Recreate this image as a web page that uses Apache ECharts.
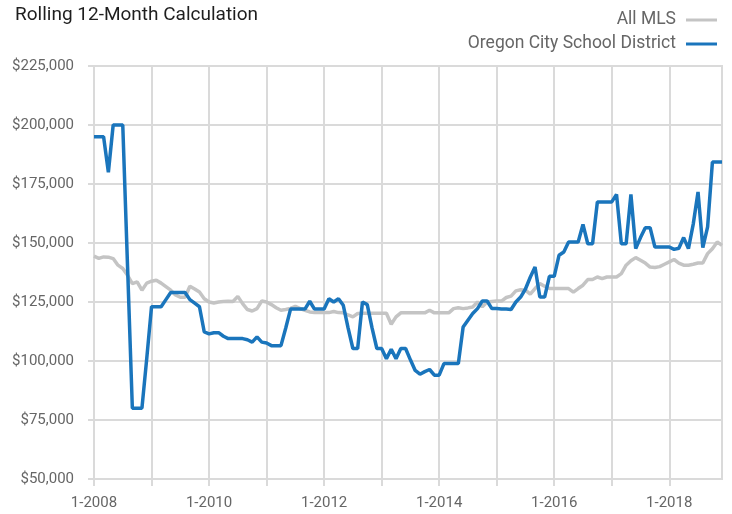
<!DOCTYPE html>
<html>
<head>
<meta charset="utf-8">
<title>Rolling 12-Month Calculation</title>
<script src="https://cdn.jsdelivr.net/npm/echarts@6/dist/echarts.min.js"></script>
<style>
    html, body { margin: 0; padding: 0; background: #fff; }
    #chart1 { width: 732px; height: 514px; }
</style>
</head>
<body>
<div id="chart1"></div>
<script>
var years = [2008, 2009, 2010, 2011, 2012, 2013, 2014, 2015, 2016, 2017, 2018];
var yTicks = [50000, 75000, 100000, 125000, 150000, 175000, 200000, 225000];

// All MLS, monthly 1-2008 .. 12-2018
var allMls = [
    144400, 143500, 144100, 144000, 143400, 140600, 139200, 136300, 132800, 133500, 130000, 133000,
    133800, 134200, 133000, 131500, 130000, 128000, 127000, 127000, 131700, 130500, 129200, 126400,
    125000, 124600, 125000, 125200, 125300, 125200, 127400, 124300, 121800, 121200, 122200, 125400,
    125000, 123900, 122600, 121500, 121800, 122300, 123200, 122200, 121500, 120800, 120600, 120500,
    120500, 120500, 121000, 120500, 120400, 119500, 118700, 120100, 120200, 120200, 120200, 120200,
    120200, 120200, 115600, 118700, 120400, 120400, 120400, 120400, 120400, 120400, 121500, 120400,
    120400, 120400, 120400, 122200, 122600, 122200, 122500, 122900, 125000, 123000, 125000, 125200,
    125400, 125400, 126900, 127500, 129700, 130200, 130000, 128300, 130700, 132800, 131700, 130700,
    130700, 130700, 130700, 130700, 129200, 130700, 132100, 134500, 134500, 135600, 134900, 135600,
    135600, 135600, 137000, 140600, 142500, 143800, 142700, 141500, 139800, 139600, 140000, 141000,
    142000, 143000, 141500, 140600, 140600, 141000, 141500, 141500, 145500, 147600, 150400, 149000
];

// Oregon City School District, monthly 1-2008 .. 12-2018
var oregonCity = [
    195000, 195000, 195000, 180000, 200000, 200000, 200000, 140000, 80000, 80000, 80000, 101000,
    123000, 123000, 123000, 126000, 129000, 129000, 129000, 129000, 126000, 124500, 123000, 112300,
    111500, 112000, 112000, 110500, 109500, 109500, 109500, 109500, 109000, 108000, 110200, 108000,
    107600, 106500, 106500, 106500, 114000, 122000, 122000, 122000, 122000, 125300, 122000, 122000,
    122000, 126400, 125000, 126400, 123600, 114000, 105300, 105300, 125000, 123900, 114000, 105300,
    105300, 101000, 105000, 101000, 105300, 105300, 100500, 96000, 94400, 95500, 96400, 94000,
    94000, 98900, 98900, 98900, 98900, 114400, 117300, 120100, 122200, 125400, 125400, 122200,
    122200, 122000, 122000, 121800, 125000, 127100, 130500, 135500, 139800, 127100, 127100, 135900,
    135900, 144800, 146200, 150400, 150400, 150400, 157900, 149700, 149700, 167400, 167400, 167400,
    167400, 170600, 149700, 149700, 170600, 147600, 152300, 156500, 156500, 148300, 148300, 148300,
    148300, 147300, 147800, 152300, 147600, 158000, 171600, 148000, 156800, 184300, 184300, 184300
];

var months = [];
for (var i = 0; i < years.length; i++) {
    for (var m = 1; m <= 12; m++) {
        months.push(m + "-" + years[i]);
    }
}

var gridColor = '#dadada';
var textColor = '#666666';
var fontName = 'Roboto';

function money(v) {
    return '$' + String(v).replace(/\B(?=(\d{3})+(?!\d))/g, ',');
}

var chart1 = echarts.init(document.getElementById("chart1"));
var option = {
    animation: false,
    title: {
        text: 'Rolling 12-Month Calculation',
        left: 10,
        top: 1,
        textStyle: {
            fontFamily: fontName,
            fontSize: 19,
            fontWeight: 'normal',
            color: '#1e1e1e'
        }
    },
    legend: {
        orient: 'vertical',
        right: 10,
        top: 6,
        align: 'right',
        itemGap: 6,
        itemWidth: 31,
        itemHeight: 3,
        icon: 'rect',
        data: ['All MLS', 'Oregon City School District'],
        textStyle: {
            fontFamily: fontName,
            fontSize: 17.5,
            color: textColor,
            padding: [0, 5, 0, 0]
        }
    },
    grid: {
        left: 94,
        right: 10,
        top: 66,
        bottom: 35,
        show: true,
        borderColor: gridColor,
        borderWidth: 2
    },
    xAxis: {
        type: 'category',
        data: months,
        boundaryGap: false,
        axisLine: {
            lineStyle: { color: gridColor, width: 2 }
        },
        axisTick: {
            length: 7,
            interval: function(index) { return index % 12 === 0; },
            lineStyle: { color: gridColor, width: 2 }
        },
        axisLabel: {
            interval: function(index) { return index % 24 === 0; },
            margin: 17,
            fontFamily: fontName,
            fontSize: 15,
            color: textColor
        },
        splitLine: {
            show: true,
            interval: function(index) { return index % 12 === 0; },
            lineStyle: { color: gridColor, width: 2 }
        }
    },
    yAxis: {
        type: 'value',
        min: yTicks[0],
        max: yTicks[yTicks.length - 1],
        interval: 25000,
        axisLine: { show: false },
        axisTick: {
            show: true,
            length: 6,
            lineStyle: { color: gridColor, width: 2 }
        },
        axisLabel: {
            margin: 20,
            fontFamily: fontName,
            fontSize: 15,
            color: textColor,
            formatter: money
        },
        splitLine: {
            lineStyle: { color: gridColor, width: 2 }
        }
    },
    series: [{
        name: 'All MLS',
        type: 'line',
        data: allMls,
        symbol: 'none',
        lineStyle: { color: '#c4c4c4', width: 3.5 },
        itemStyle: { color: '#c4c4c4' }
    }, {
        name: 'Oregon City School District',
        type: 'line',
        data: oregonCity,
        symbol: 'none',
        lineStyle: { color: '#1a75bc', width: 3.5 },
        itemStyle: { color: '#1a75bc' }
    }]
};
chart1.setOption(option);
</script>
</body>
</html>
